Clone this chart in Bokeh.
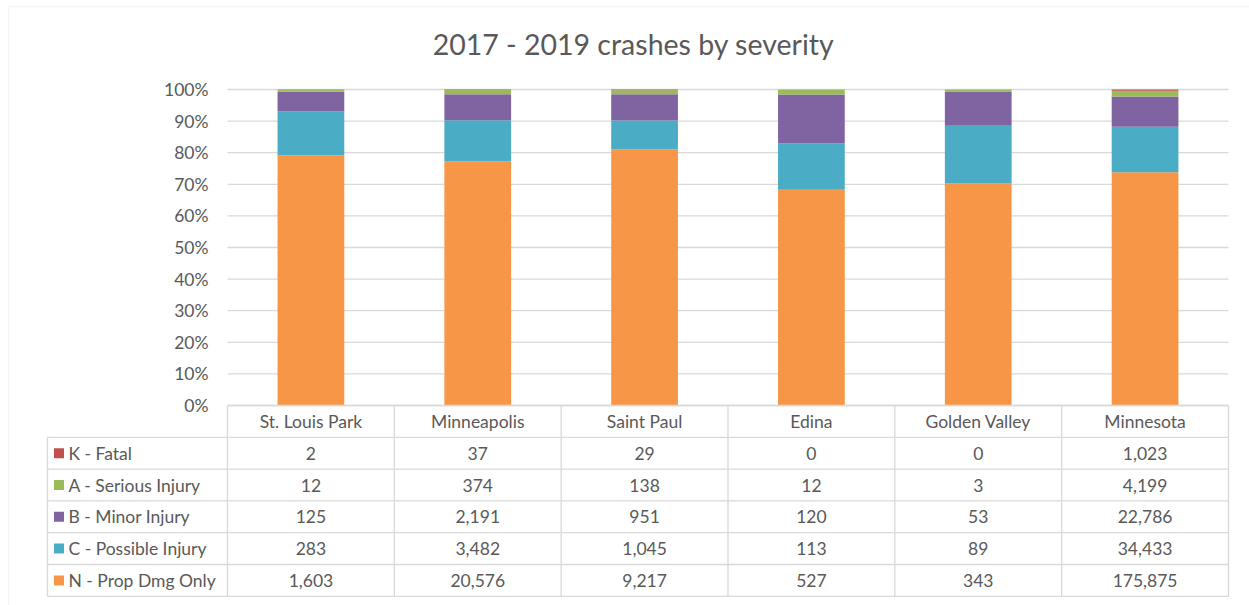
from bokeh.plotting import figure
from bokeh.models import ColumnDataSource, BoxAnnotation, Range1d
from bokeh.core.properties import value
from bokeh.embed import file_html
from bokeh.resources import INLINE

# ---------------- data ----------------
title_text = "2017 - 2019 crashes by severity"
categories = ["St. Louis Park", "Minneapolis", "Saint Paul", "Edina", "Golden Valley", "Minnesota"]
severity_labels = ["K - Fatal", "A - Serious Injury", "B - Minor Injury",
                   "C - Possible Injury", "N - Prop Dmg Only"]
fatal = [2, 37, 29, 0, 0, 1023]
serious_injury = [12, 374, 138, 12, 3, 4199]
minor_injury = [125, 2191, 951, 120, 53, 22786]
possible_injury = [283, 3482, 1045, 113, 89, 34433]
prop_dmg_only = [1603, 20576, 9217, 527, 343, 175875]
pct_ticks = [0, 10, 20, 30, 40, 50, 60, 70, 80, 90, 100]

# ---------------- styles / layout ----------------
severity_colors = ["#C0504D", "#9BBB59", "#8064A2", "#4BACC6", "#F79646"]
FONT = "Lato"
TXT = "#595959"
LINE = "#d9d9d9"
FS = "17.5px"
W, H = 1249, 605
PX_X = 166.83     # px per category cell
PX_Y = 316.0      # px per 100 %
ORIGIN_X = 227.0  # px of plot-area left
ORIGIN_Y = 405.0  # px of 0 % line from top
ROW_PX = 31.8
LEG_LEFT_PX = 47.0

x_start = -ORIGIN_X / PX_X
x_end = (W - ORIGIN_X) / PX_X
y_end = ORIGIN_Y / PX_Y
y_start = -(H - ORIGIN_Y) / PX_Y
ROW = ROW_PX / PX_Y
LEG = (LEG_LEFT_PX - ORIGIN_X) / PX_X
n = len(categories)

series = [fatal, serious_injury, minor_injury, possible_injury, prop_dmg_only]
totals = [sum(s[i] for s in series) for i in range(n)]
keys = ["k", "a", "b", "c", "nn"]
data = {"x": [i + 0.5 for i in range(n)]}
for key, s in zip(keys, series):
    data[key] = [s[i] / totals[i] for i in range(n)]
src = ColumnDataSource(data)

p = figure(width=W, height=H, output_backend="svg", toolbar_location=None,
           x_axis_location=None, y_axis_location=None,
           x_range=Range1d(x_start, x_end), y_range=Range1d(y_start, y_end),
           min_border=0, outline_line_color=None, tools="")
p.grid.visible = False
p.background_fill_color = "white"
p.border_fill_color = "white"

# outer chart border
p.add_layout(BoxAnnotation(left=x_start + 8 / PX_X, right=x_end + 1,
                           top=y_end - 6 / PX_Y, bottom=y_start - 1,
                           fill_alpha=0, line_color=LINE, line_width=1.3))

# gridlines
gy = [t / 100 for t in pct_ticks]
p.segment(x0=[0] * len(gy), x1=[n] * len(gy), y0=gy, y1=gy, line_color=LINE, line_width=1.3)

# stacked 100% bars: bottom N, C, B, A, K
stack_order = ["nn", "c", "b", "a", "k"]
stack_colors = [severity_colors[keys.index(k)] for k in stack_order]
p.vbar_stack(stack_order, x="x", width=0.40, color=stack_colors, line_color=None, source=src)

# y tick labels
p.text(x=[0] * len(gy), y=gy, text=[f"{t}%" for t in pct_ticks], x_offset=-19,
       text_align="right", text_baseline="middle", text_color=TXT,
       text_font=value(FONT), text_font_size=FS)

# title
p.text(x=[(633 - ORIGIN_X) / PX_X], y=[(ORIGIN_Y - 43) / PX_Y], text=[title_text],
       text_align="center", text_baseline="middle", text_color=TXT,
       text_font=value(FONT), text_font_size="28.5px")

# ---------------- data table ----------------
nrows = len(severity_labels) + 1
# vertical lines
vx = list(range(n + 1))
p.segment(x0=vx, x1=vx, y0=[0] * len(vx), y1=[-nrows * ROW] * len(vx), line_color=LINE, line_width=1.3)
p.segment(x0=[LEG], x1=[LEG], y0=[-ROW], y1=[-nrows * ROW], line_color=LINE, line_width=1.3)
# horizontal lines
hy = [-k * ROW for k in range(1, nrows + 1)]
p.segment(x0=[0], x1=[n], y0=[0], y1=[0], line_color=LINE, line_width=1.3)
p.segment(x0=[LEG] * len(hy), x1=[n] * len(hy), y0=hy, y1=hy, line_color=LINE, line_width=1.3)

# header labels
p.text(x=data["x"], y=[-ROW / 2] * n, text=categories, text_align="center",
       text_baseline="middle", text_color=TXT, text_font=value(FONT), text_font_size=FS)

# values
vx_, vy_, vt_ = [], [], []
for r, s in enumerate(series):
    for i in range(n):
        vx_.append(i + 0.5)
        vy_.append(-(r + 1.5) * ROW)
        vt_.append(f"{s[i]:,}")
p.text(x=vx_, y=vy_, text=vt_, text_align="center", text_baseline="middle",
       text_color=TXT, text_font=value(FONT), text_font_size=FS)

# legend keys in first column
ly = [-(r + 1.5) * ROW for r in range(len(severity_labels))]
p.rect(x=[LEG + 11.5 / PX_X] * len(ly), y=ly, width=10, height=10,
       width_units="screen", height_units="screen", fill_color=severity_colors, line_color=None)
p.text(x=[LEG + 21 / PX_X] * len(ly), y=ly, text=severity_labels, text_align="left",
       text_baseline="middle", text_color=TXT, text_font=value(FONT), text_font_size=FS)

open("out.html", "w").write(file_html(p, INLINE))
